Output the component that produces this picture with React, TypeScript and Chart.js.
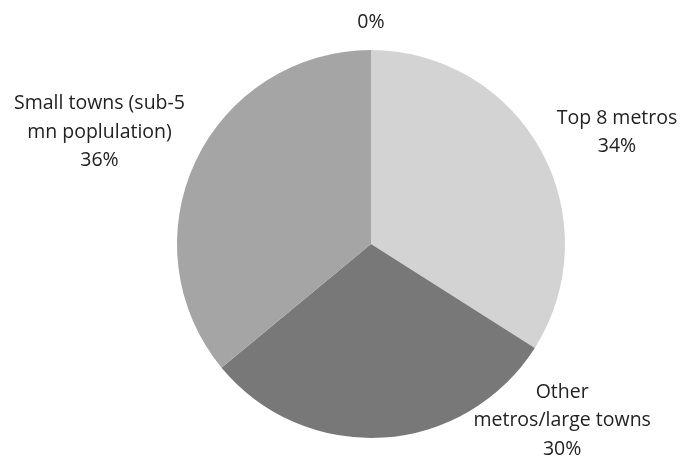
import React, { useEffect, useRef } from "react";
import { Chart, registerables } from "chart.js";

Chart.register(...registerables);

const categories: string[][] = [
  ["Top 8 metros"],
  ["Other", "metros/large towns"],
  ["Small towns (sub-5", "mn poplulation)"],
  [],
];
const shares: number[] = [34, 30, 36, 0];
const sliceColors: string[] = ["#d3d3d3", "#787878", "#a5a5a5", "#bfbfbf"];

// label placement offsets relative to each slice's outer-rim midpoint (layout only)
const labelOffsets: [number, number][] = [
  [76, -18],
  [179, -17],
  [-96, -29],
  [0, -28],
];

const FONT = "19.5px 'Open Sans', sans-serif";
const LINE_H = 28.5;

const labelPlugin = {
  id: "outerLabels",
  afterDatasetsDraw(chart: any) {
    const ctx = chart.ctx as CanvasRenderingContext2D;
    const meta = chart.getDatasetMeta(0);
    const data = chart.data.datasets[0].data as number[];
    const total = data.reduce((a, b) => a + b, 0);
    ctx.save();
    ctx.font = FONT;
    ctx.fillStyle = "#222222";
    ctx.textAlign = "center";
    ctx.textBaseline = "middle";
    meta.data.forEach((arc: any, i: number) => {
      const p = arc.getProps(["x", "y", "startAngle", "endAngle", "outerRadius"], true);
      const mid = (p.startAngle + p.endAngle) / 2;
      const ax = p.x + Math.cos(mid) * p.outerRadius;
      const ay = p.y + Math.sin(mid) * p.outerRadius;
      const cx = ax + labelOffsets[i][0];
      const cy = ay + labelOffsets[i][1];
      const lines = [...categories[i], Math.round((data[i] / total) * 100) + "%"];
      const top = cy - ((lines.length - 1) * LINE_H) / 2;
      lines.forEach((t, k) => ctx.fillText(t, cx, top + k * LINE_H));
    });
    ctx.restore();
  },
};

export default function App() {
  const ref = useRef<HTMLCanvasElement | null>(null);
  useEffect(() => {
    if (!ref.current) return;
    const chart = new Chart(ref.current, {
      type: "pie",
      data: {
        labels: categories.map((c) => c.join(" ")),
        datasets: [
          {
            data: shares,
            backgroundColor: sliceColors,
            borderWidth: 0,
          },
        ],
      },
      options: {
        responsive: false,
        animation: false,
        layout: { padding: { top: 50, bottom: 22, left: 177, right: 119 } },
        plugins: {
          legend: { display: false },
          tooltip: { enabled: false },
        },
      },
      plugins: [labelPlugin],
    });
    return () => chart.destroy();
  }, []);
  return (
    <div style={{ position: "absolute", left: 0, top: 0, width: 684, height: 460, background: "#fff" }}>
      <canvas ref={ref} width={684} height={460} style={{ display: "block" }} />
    </div>
  );
}
